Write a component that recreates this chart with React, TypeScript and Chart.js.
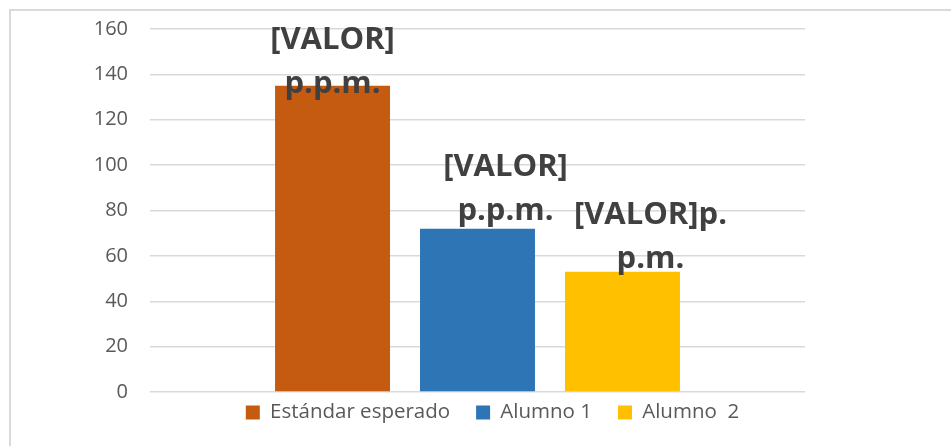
import React, { useEffect, useRef } from "react";
import { Chart, registerables } from "chart.js";

Chart.register(...registerables);

// ---- data ----
const categories = [""];
const seriesNames = ["Estándar esperado", "Alumno 1", "Alumno  2"];
const seriesValues = [135, 72, 53];
const seriesColors = ["#C55A11", "#2E75B6", "#FFC000"];
const valueLabels = [
  ["[VALOR]", "p.p.m."],
  ["[VALOR]", "p.p.m."],
  ["[VALOR]p.", "p.m."],
];
const yMin = 0;
const yMax = 160;
const yStep = 20;

// ---- styles ----
const W = 951;
const H = 446;
const FONT = "'Open Sans', 'DejaVu Sans', sans-serif";
const TEXT_GRAY = "#595959";
const LABEL_GRAY = "#404040";
const GRID = "#d9d9d9";
const LABEL_LINE_H = 44;
// offset of each label block (x from bar center, last-line baseline from bar top)
const LABEL_OFFSETS = [
  { dx: 0, dy: 7 },
  { dx: 28, dy: -9 },
  { dx: 28, dy: -4 },
];
const LEGEND_CENTER_BELOW_AREA = 20.5;
const LEGEND_CENTER_SHIFT_X = 15;

const valueLabelPlugin = {
  id: "valueLabelPlugin",
  afterDatasetsDraw(chart: any) {
    const ctx = chart.ctx;
    ctx.save();
    ctx.font = `bold 31px ${FONT}`;
    ctx.fillStyle = LABEL_GRAY;
    ctx.textAlign = "center";
    ctx.textBaseline = "alphabetic";
    chart.data.datasets.forEach((_ds: any, i: number) => {
      const meta = chart.getDatasetMeta(i);
      meta.data.forEach((bar: any) => {
        const lines = valueLabels[i];
        const off = LABEL_OFFSETS[i];
        const x = bar.x + off.dx;
        const yLast = bar.y + off.dy;
        lines.forEach((ln, k) => {
          ctx.fillText(ln, x, yLast - (lines.length - 1 - k) * LABEL_LINE_H);
        });
      });
    });
    ctx.restore();
  },
};

const legendShiftPlugin = {
  id: "legendShiftPlugin",
  afterLayout(chart: any) {
    const lg = chart.legend;
    if (!lg) return;
    const pad = lg.options.labels.padding;
    const itemH = Math.max(lg.options.labels.font.size, lg.options.labels.boxHeight);
    const top = chart.chartArea.bottom + LEGEND_CENTER_BELOW_AREA - pad - itemH / 2;
    const h = lg.height;
    lg.top = top;
    lg.bottom = top + h;
    const area = chart.chartArea;
    const cx = (area.left + area.right) / 2 + LEGEND_CENTER_SHIFT_X;
    const half = (area.right - area.left) / 2;
    lg.left = cx - half;
    lg.right = cx + half;
    lg.width = lg.right - lg.left;
  },
};

export default function App() {
  const ref = useRef<HTMLCanvasElement | null>(null);

  useEffect(() => {
    if (!ref.current) return;
    const chart = new Chart(ref.current, {
      type: "bar",
      data: {
        labels: categories,
        datasets: seriesNames.map((name, i) => ({
          label: name,
          data: [seriesValues[i]],
          backgroundColor: seriesColors[i],
          borderWidth: 0,
          categoryPercentage: 0.664,
          barPercentage: 0.793,
        })),
      },
      options: {
        responsive: false,
        animation: false,
        layout: { padding: { left: 10, right: 146, top: 29, bottom: -2.5 } },
        scales: {
          x: { display: false },
          y: {
            min: yMin,
            max: yMax,
            afterFit: (scale: any) => {
              scale.width = 140;
              scale.paddingTop = 0;
              scale.paddingBottom = 0;
            },
            ticks: {
              stepSize: yStep,
              padding: 22,
              color: TEXT_GRAY,
              font: { family: FONT, size: 20 },
            },
            grid: { color: GRID, lineWidth: 1.5, drawTicks: false },
            border: { display: false },
          },
        },
        plugins: {
          tooltip: { enabled: false },
          legend: {
            position: "bottom",
            labels: {
              boxWidth: 14,
              boxHeight: 14,
              padding: 26,
              color: TEXT_GRAY,
              font: { family: FONT, size: 20.5 },
            },
          },
        },
      },
      plugins: [valueLabelPlugin, legendShiftPlugin],
    });
    return () => chart.destroy();
  }, []);

  return (
    <div
      style={{
        position: "fixed",
        left: 0,
        top: 0,
        width: W,
        height: H,
        overflow: "hidden",
        background: "#fff",
      }}
    >
      <div
        style={{
          position: "absolute",
          left: 9,
          top: 9,
          width: 1200,
          height: 1000,
          border: "2px solid #d9d9d9",
        }}
      />
      <canvas
        ref={ref}
        width={W}
        height={H}
        style={{ position: "absolute", left: 0, top: 0, width: W, height: H }}
      />
    </div>
  );
}
